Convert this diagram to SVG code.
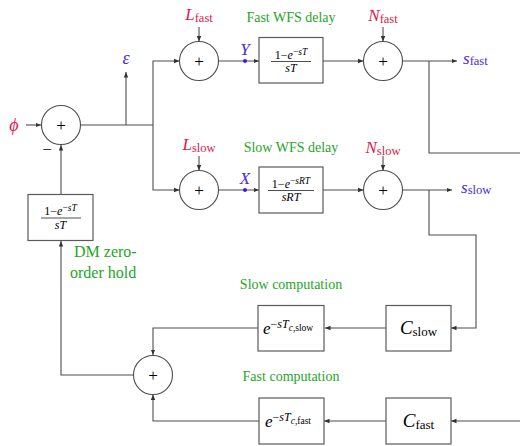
<svg xmlns="http://www.w3.org/2000/svg" width="520" height="446" viewBox="0 0 520 446" font-family="Liberation Serif, DejaVu Serif, serif">
<style>
.ln{fill:none;stroke:#4d4d4d;stroke-width:1.1}
.bx{fill:#fff;stroke:#5a5a5a;stroke-width:1.2}
.sum{fill:#fff;stroke:#4d4d4d;stroke-width:1.1}
text{font-family:'Liberation Serif','DejaVu Serif',serif;fill:#000}
.red{fill:#dc1a4a}
.blue{fill:#4a2ae8}
.grn{fill:#1fa51f;font-size:14px}
.it{font-style:italic}
.plus{font-size:17px;text-anchor:middle}
.frac{font-size:12px;text-anchor:middle}
.mid{text-anchor:middle}
</style>
<defs>
<marker id="ar" markerUnits="userSpaceOnUse" markerWidth="6" markerHeight="6" refX="5.5" refY="3" orient="auto">
<path d="M0,0.8 L5.5,3 L0,5.2 z" fill="#333"/>
</marker>
</defs>

<g id="connectors" class="ln">
<path d="M26,125 H41" marker-end="url(#ar)"/>
<path d="M80.5,125 H153"/>
<path d="M126,125 V72" marker-end="url(#ar)"/>
<path d="M153,125 V61 H179.5" marker-end="url(#ar)"/>
<path d="M153,125 V190 H179.5" marker-end="url(#ar)"/>
<path d="M199,27 V41.5" marker-end="url(#ar)"/>
<path d="M199,156 V170.5" marker-end="url(#ar)"/>
<path d="M218.5,61 H259" marker-end="url(#ar)"/>
<path d="M218.5,190 H259" marker-end="url(#ar)"/>
<path d="M323,61 H363.5" marker-end="url(#ar)"/>
<path d="M323,190 H363.5" marker-end="url(#ar)"/>
<path d="M383,27 V41.5" marker-end="url(#ar)"/>
<path d="M383,156 V170.5" marker-end="url(#ar)"/>
<path d="M402.5,61 H457" marker-end="url(#ar)"/>
<path d="M402.5,190 H452" marker-end="url(#ar)"/>
<path d="M429,61 V153 H521"/>
<path d="M429,190 V235 H476 V328 H451" marker-end="url(#ar)"/>
<path d="M386,328 H325" marker-end="url(#ar)"/>
<path d="M258,328 H153 V355" marker-end="url(#ar)"/>
<path d="M521,421 H451" marker-end="url(#ar)"/>
<path d="M386,421 H324" marker-end="url(#ar)"/>
<path d="M259,421 H153 V394.5" marker-end="url(#ar)"/>
<path d="M133.5,375 H61 V241" marker-end="url(#ar)"/>
<path d="M61,194 V145" marker-end="url(#ar)"/>
</g>

<g id="phi"><text x="14" y="131" class="red it mid" font-size="18">ϕ</text></g>
<g id="sum-main">
<circle class="sum" cx="61" cy="125" r="19.5"/>
<text x="61" y="130.5" class="plus">+</text>
<text x="47" y="155" class="mid" font-size="17">−</text>
</g>
<g id="epsilon"><text x="126" y="64" class="blue it mid" font-size="18">ε</text></g>

<g id="sum-fast">
<circle class="sum" cx="199" cy="61" r="19.5"/>
<text x="199" y="66.5" class="plus">+</text>
<text x="199" y="20" class="red mid"><tspan class="it" font-size="17">L</tspan><tspan font-size="12.5" dy="2">fast</tspan></text>
</g>
<g id="sum-slow">
<circle class="sum" cx="199" cy="190" r="19.5"/>
<text x="199" y="195.5" class="plus">+</text>
<text x="199" y="150" class="red mid"><tspan class="it" font-size="17">L</tspan><tspan font-size="12.5" dy="2">slow</tspan></text>
</g>

<g id="Y"><circle cx="245" cy="61" r="2" fill="#3a1ee0"/><text x="245" y="55" class="blue it mid" font-size="17">Y</text></g>
<g id="X"><circle cx="245" cy="190" r="2" fill="#3a1ee0"/><text x="245" y="184" class="blue it mid" font-size="17">X</text></g>

<g id="fast-wfs">
<text x="291" y="22" class="grn mid">Fast WFS delay</text>
<rect class="bx" x="259" y="37.5" width="64" height="45.5"/>
<text x="291" y="58.5" class="frac">1−<tspan class="it">e</tspan><tspan font-size="9.5" dy="-4">−</tspan><tspan font-size="9.5" class="it">sT</tspan></text>
<line x1="271" y1="61.5" x2="311" y2="61.5" stroke="#222" stroke-width="0.8"/>
<text x="291" y="72" class="frac it">sT</text>
</g>
<g id="slow-wfs">
<text x="291" y="152" class="grn mid">Slow WFS delay</text>
<rect class="bx" x="259" y="167" width="64" height="46"/>
<text x="291" y="187.5" class="frac">1−<tspan class="it">e</tspan><tspan font-size="9.5" dy="-4">−</tspan><tspan font-size="9.5" class="it">sRT</tspan></text>
<line x1="268" y1="190.5" x2="314" y2="190.5" stroke="#222" stroke-width="0.8"/>
<text x="291" y="201" class="frac it">sRT</text>
</g>

<g id="sum-nfast">
<circle class="sum" cx="383" cy="61" r="19.5"/>
<text x="383" y="66.5" class="plus">+</text>
<text x="383" y="21" class="red mid"><tspan class="it" font-size="17">N</tspan><tspan font-size="12.5" dy="2">fast</tspan></text>
</g>
<g id="sum-nslow">
<circle class="sum" cx="383" cy="190" r="19.5"/>
<text x="383" y="153" class="red mid"><tspan class="it" font-size="17">N</tspan><tspan font-size="12.5" dy="2">slow</tspan></text>
<text x="383" y="195.5" class="plus">+</text>
</g>

<g id="s-fast"><text x="463" y="64" class="blue"><tspan class="it" font-size="17">s</tspan><tspan font-size="12.5" dy="1">fast</tspan></text></g>
<g id="s-slow"><text x="461" y="193" class="blue"><tspan class="it" font-size="17">s</tspan><tspan font-size="12.5" dy="1">slow</tspan></text></g>

<g id="dm-hold">
<rect class="bx" x="28" y="194.5" width="65" height="46"/>
<text x="60.5" y="215" class="frac">1−<tspan class="it">e</tspan><tspan font-size="9.5" dy="-4">−</tspan><tspan font-size="9.5" class="it">sT</tspan></text>
<line x1="41" y1="218" x2="81" y2="218" stroke="#222" stroke-width="0.8"/>
<text x="60.5" y="228.5" class="frac it">sT</text>
<text x="74" y="257" class="grn" style="font-size:16px">DM zero-</text>
<text x="70" y="278" class="grn" style="font-size:16px">order hold</text>
</g>

<g id="slow-comp">
<text x="291" y="289" class="grn mid">Slow computation</text>
<rect class="bx" x="258" y="305.5" width="66" height="45.5"/>
<text x="263" y="334" font-size="17"><tspan class="it">e</tspan><tspan font-size="12" dy="-6">−</tspan><tspan font-size="12" class="it">sT</tspan><tspan font-size="9.5" dy="3" class="it">c</tspan><tspan font-size="9.5">,slow</tspan></text>
</g>
<g id="c-slow">
<rect class="bx" x="386" y="305.5" width="65" height="45.5"/>
<text x="418.5" y="334" class="mid"><tspan class="it" font-size="19">C</tspan><tspan font-size="13" dy="2">slow</tspan></text>
</g>

<g id="fast-comp">
<text x="291" y="381" class="grn mid">Fast computation</text>
<rect class="bx" x="259" y="398" width="65" height="46"/>
<text x="265" y="427" font-size="17"><tspan class="it">e</tspan><tspan font-size="12" dy="-6">−</tspan><tspan font-size="12" class="it">sT</tspan><tspan font-size="9.5" dy="3" class="it">c</tspan><tspan font-size="9.5">,fast</tspan></text>
</g>
<g id="c-fast">
<rect class="bx" x="386" y="398" width="65" height="46"/>
<text x="418.5" y="427" class="mid"><tspan class="it" font-size="19">C</tspan><tspan font-size="13" dy="2">fast</tspan></text>
</g>

<g id="sum-bottom">
<circle class="sum" cx="153" cy="375" r="19.5"/>
<text x="153" y="380.5" class="plus">+</text>
</g>
</svg>
